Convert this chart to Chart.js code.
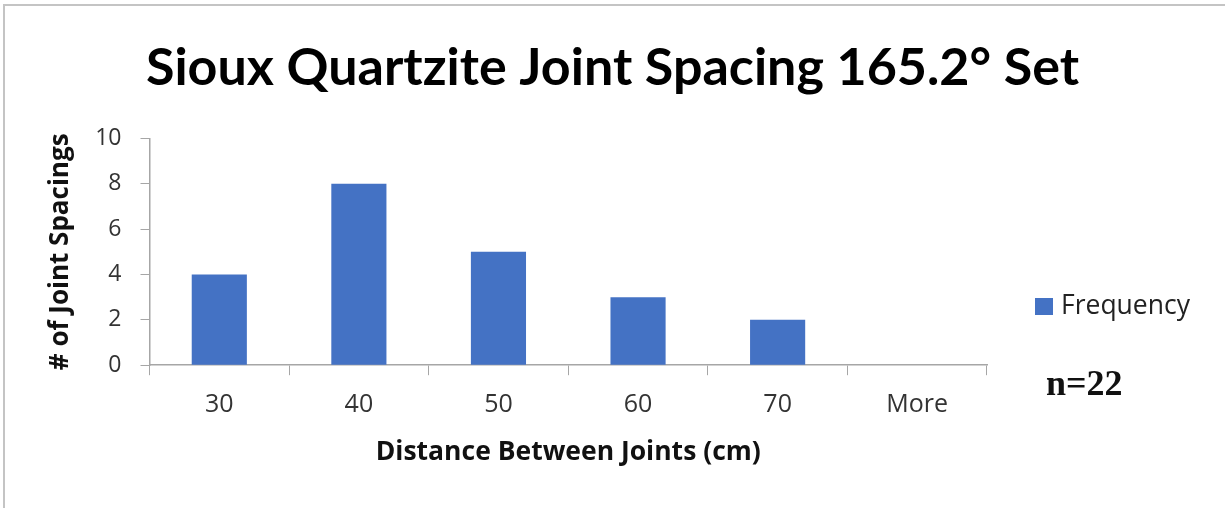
<!DOCTYPE html>
<html>
<head>
<meta charset="utf-8">
<script src="https://cdn.jsdelivr.net/npm/chart.js@4.4.0/dist/chart.umd.min.js"></script>
<style>
  html, body { margin: 0; padding: 0; background: #fff; }
  #wrap { position: relative; width: 1225px; height: 508px; overflow: hidden; }
  #frame {
    position: absolute; left: 3px; top: 4px; right: -10px; bottom: -10px;
    border-top: 2px solid #c4c4c4; border-left: 2px solid #c4c4c4;
    pointer-events: none;
  }
  canvas { position: absolute; left: 0; top: 0; }
</style>
</head>
<body>
<div id="wrap">
  <canvas id="jointChart" width="1225" height="508"></canvas>
  <div id="frame"></div>
</div>
<script>
// Data
const categories = ["30", "40", "50", "60", "70", "More"];
const frequency = [4, 8, 5, 3, 2, 0];
const yTicks = [0, 2, 4, 6, 8, 10];
const sampleNote = "n=22";

const barBlue = "#4472c4";
const axisGray = "#a6a6a6";

// Legend at right and the sample size note
const sideNotes = {
  id: "sideNotes",
  afterDraw(chart) {
    const ctx = chart.ctx;
    const ds = chart.data.datasets[0];
    ctx.save();
    ctx.fillStyle = ds.backgroundColor;
    ctx.fillRect(1035, 298, 18, 17);
    ctx.fillStyle = "#222";
    ctx.font = "26.5px 'Open Sans'";
    ctx.textBaseline = "middle";
    ctx.textAlign = "left";
    ctx.fillText(ds.label, 1061, 306);
    ctx.fillStyle = "#111";
    ctx.font = "bold 36px 'Liberation Serif'";
    ctx.fillText(sampleNote, 1046, 386);
    ctx.restore();
  },
};

document.addEventListener("DOMContentLoaded", () => {
  const ctx = document.getElementById("jointChart");

  new Chart(ctx, {
    type: "bar",
    data: {
      labels: categories,
      datasets: [
        {
          label: "Frequency",
          data: frequency,
          backgroundColor: barBlue,
          borderWidth: 0,
          categoryPercentage: 1,
          barPercentage: 0.395,
        },
      ],
    },
    options: {
      responsive: false,
      animation: false,
      devicePixelRatio: 1,
      layout: {
        padding: { left: 0, right: 0, top: 0, bottom: 36 },
      },
      scales: {
        x: {
          grid: {
            drawOnChartArea: false,
            tickLength: 10,
            color: axisGray,
            offset: true,
          },
          border: { color: axisGray, width: 1.5 },
          ticks: {
            color: "#333",
            font: { family: "Open Sans", size: 25 },
            padding: 15,
          },
          title: {
            display: true,
            text: "Distance Between Joints (cm)",
            color: "#111",
            font: { family: "Open Sans", size: 26.5, weight: "bold" },
            padding: { top: 1, bottom: 4 },
          },
        },
        y: {
          min: 0,
          max: 10,
          afterBuildTicks: (scale) => {
            scale.ticks = yTicks.map((v) => ({ value: v }));
          },
          grid: {
            drawOnChartArea: false,
            tickLength: 9,
            color: axisGray,
          },
          border: { color: axisGray, width: 1.5 },
          ticks: {
            color: "#333",
            font: { family: "Open Sans", size: 23 },
            padding: 19,
          },
          title: {
            display: true,
            text: "# of Joint Spacings",
            color: "#111",
            font: { family: "Open Sans", size: 26, weight: "bold" },
            padding: { top: 45, bottom: 0 },
          },
        },
        // empty right-hand axis that keeps room for the legend and note
        side: {
          position: "right",
          grid: { display: false },
          border: { display: false },
          ticks: { display: false },
          afterFit: (scale) => {
            scale.width = 238;
          },
        },
      },
      plugins: {
        legend: { display: false },
        tooltip: { enabled: false },
        title: {
          display: true,
          text: "Sioux Quartzite Joint Spacing 165.2° Set",
          color: "#000",
          font: { family: "Lato", size: 52, weight: "bold" },
          padding: { top: 37, bottom: 39 },
        },
      },
    },
    plugins: [sideNotes],
  });
});
</script>
</body>
</html>
